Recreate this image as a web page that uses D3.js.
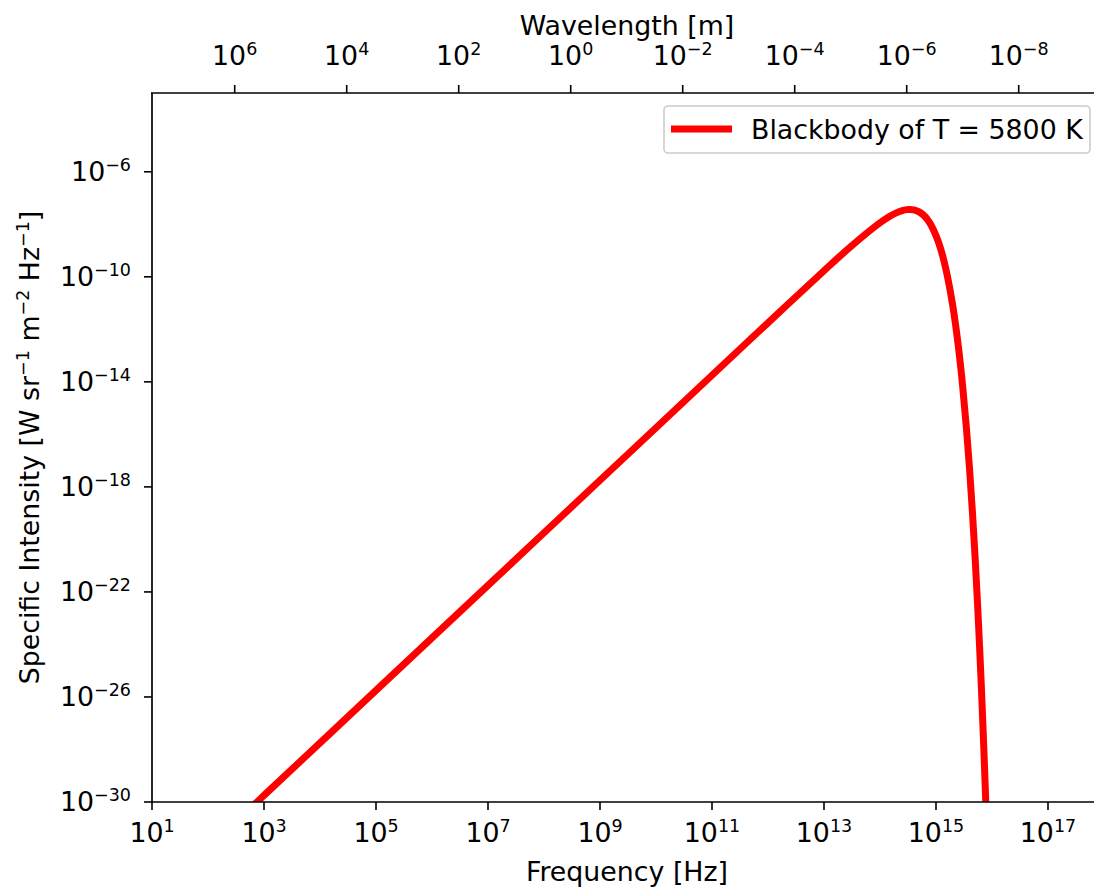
<!DOCTYPE html>
<html>
<head>
<meta charset="utf-8">
<script src="https://cdn.jsdelivr.net/npm/d3@7"></script>
<style>
body{margin:0;background:#fff;}
text{font-family:"DejaVu Sans",sans-serif;fill:#000;}
</style>
</head>
<body>
<div id="chart"></div>
<script>
// blackbody curve, values (Hz, W sr^-1 m^-2 Hz^-1)
var freqHz=[5e2,1e3,1e5,1e7,1e9,1e11,1e12,1e13,3e13,1e14,1.5e14,2e14,2.5e14,3e14,3.4e14,4e14,5e14,6e14,7e14,8e14,1e15,1.2e15,1.5e15,2e15,2.5e15,3e15,3.5e15,4e15,4.5e15,5e15,5.5e15,6e15,6.5e15,7e15,7.5e15,8e15];
var intensity=[4.45e-31,1.78e-30,1.78e-26,1.78e-22,1.78e-18,1.78e-14,1.77e-12,1.71e-10,1.41e-9,1.14e-8,2.02e-8,2.78e-8,3.32e-8,3.62e-8,3.69e-8,3.56e-8,2.98e-8,2.22e-8,1.54e-8,1.0e-8,3.73e-9,1.24e-9,2.0e-10,7.58e-12,2.35e-13,6.48e-15,1.64e-16,3.96e-18,8.9e-20,1.93e-21,4.1e-23,8.3e-25,1.7e-26,3.4e-28,6.6e-30,1.3e-31];
var freqTicks=[1e1,1e3,1e5,1e7,1e9,1e11,1e13,1e15,1e17];
var waveTicks=[1e6,1e4,1e2,1e0,1e-2,1e-4,1e-6,1e-8];
var intensityTicks=[1e-6,1e-10,1e-14,1e-18,1e-22,1e-26,1e-30];
var legendLabel="Blackbody of T = 5800 K";
var c=2.998e8;

var width=1094,height=891;
var pLeft=152,pRight=1104,pTop=93,pBottom=802;
var fs="26.8px",supFs="17.5px",supUp=10;

var svg=d3.select("#chart").append("svg")
  .attr("width",width)
  .attr("height",height);

var x=d3.scaleLog().domain([1e1,1e18]).range([pLeft,pRight]);
var xTop=d3.scaleLog().domain([c/1e1,c/1e18]).range([pLeft,pRight]);
var y=d3.scaleLog().domain([1e-30,1e-3]).range([pBottom,pTop]);

// writes 10^n with a raised exponent
function powLabel(sel,v){
  var e=Math.round(Math.log10(v));
  sel.text("");
  sel.append("tspan").text("10");
  sel.append("tspan").attr("dy",-supUp).style("font-size",supFs)
    .text(String(e).replace("-","\u2212"));
}

svg.append("defs").append("clipPath").attr("id","clip")
  .append("rect").attr("x",pLeft).attr("y",pTop)
  .attr("width",pRight-pLeft).attr("height",pBottom-pTop);

var line=d3.line()
  .x(function(d){return x(d[0]);})
  .y(function(d){return y(d[1]);})
  .curve(d3.curveCatmullRom.alpha(0.5));

var pts=freqHz.map(function(f,i){return [f,intensity[i]];});

svg.append("path")
  .datum(pts)
  .attr("clip-path","url(#clip)")
  .attr("d",line)
  .attr("fill","none")
  .attr("stroke","#ff0000")
  .attr("stroke-width",7)
  .attr("stroke-linejoin","round");

// spines
svg.append("line").attr("x1",pLeft).attr("x2",pLeft).attr("y1",pTop).attr("y2",pBottom).attr("stroke","#000").attr("stroke-width",1.7);
svg.append("line").attr("x1",pLeft-1).attr("x2",pRight).attr("y1",pBottom).attr("y2",pBottom).attr("stroke","#000").attr("stroke-width",1.7);
svg.append("line").attr("x1",pLeft-1).attr("x2",pRight).attr("y1",pTop).attr("y2",pTop).attr("stroke","#000").attr("stroke-width",1.7);

// bottom axis
var gb=svg.append("g");
gb.selectAll("line").data(freqTicks).enter().append("line")
  .attr("x1",function(d){return x(d);}).attr("x2",function(d){return x(d);})
  .attr("y1",pBottom).attr("y2",pBottom+8)
  .attr("stroke","#000").attr("stroke-width",1.6);
gb.selectAll("text").data(freqTicks).enter().append("text")
  .attr("x",function(d){return x(d);}).attr("y",pBottom+40)
  .attr("text-anchor","middle").style("font-size",fs)
  .each(function(d){powLabel(d3.select(this),d);});
svg.append("text").attr("x",627).attr("y",881)
  .attr("text-anchor","middle").style("font-size",fs)
  .text("Frequency [Hz]");

// top axis
var gt=svg.append("g");
gt.selectAll("line").data(waveTicks).enter().append("line")
  .attr("x1",function(d){return xTop(d);}).attr("x2",function(d){return xTop(d);})
  .attr("y1",pTop).attr("y2",pTop-8)
  .attr("stroke","#000").attr("stroke-width",1.6);
gt.selectAll("text").data(waveTicks).enter().append("text")
  .attr("x",function(d){return xTop(d);}).attr("y",pTop-28)
  .attr("text-anchor","middle").style("font-size",fs)
  .each(function(d){powLabel(d3.select(this),d);});
svg.append("text").attr("x",627).attr("y",35)
  .attr("text-anchor","middle").style("font-size",fs)
  .text("Wavelength [m]");

// left axis
var gl=svg.append("g");
gl.selectAll("line").data(intensityTicks).enter().append("line")
  .attr("x1",pLeft).attr("x2",pLeft-8)
  .attr("y1",function(d){return y(d);}).attr("y2",function(d){return y(d);})
  .attr("stroke","#000").attr("stroke-width",1.6);
gl.selectAll("text").data(intensityTicks).enter().append("text")
  .attr("x",pLeft-21).attr("y",function(d){return y(d)+9;})
  .attr("text-anchor","end").style("font-size",fs)
  .each(function(d){powLabel(d3.select(this),d);});

var yl=svg.append("text")
  .attr("transform","translate(39,"+((pTop+pBottom)/2)+") rotate(-90)")
  .attr("text-anchor","middle").style("font-size",fs);
var ylParts=[["Specific Intensity [W sr",0],["\u22121",1],[" m",-1],["\u22122",1],[" Hz",-1],["\u22121",1],["]",-1]];
ylParts.forEach(function(p){
  var t=yl.append("tspan").text(p[0]);
  if(p[1]==1){t.attr("dy",-supUp).style("font-size",supFs);}
  else if(p[1]==-1){t.attr("dy",supUp);}
});

// legend
var lg=svg.append("g");
lg.append("rect").attr("x",664).attr("y",106).attr("width",426).attr("height",47)
  .attr("rx",4).attr("fill","#fff").attr("stroke","#cccccc").attr("stroke-width",1.6);
lg.append("line").attr("x1",671).attr("x2",732).attr("y1",129).attr("y2",129)
  .attr("stroke","#ff0000").attr("stroke-width",7);
lg.append("text").attr("x",751).attr("y",138.5).style("font-size",fs).text(legendLabel);
</script>
</body>
</html>
